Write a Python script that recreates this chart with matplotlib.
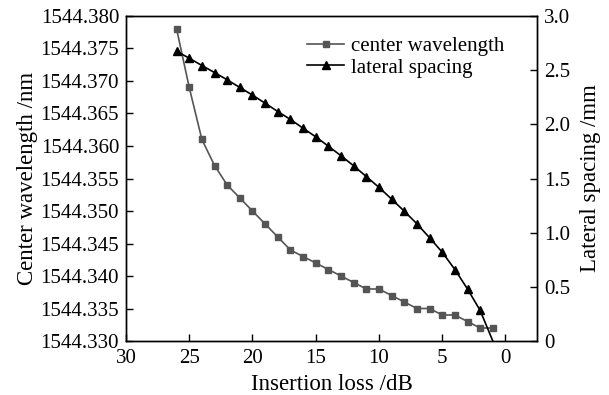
import matplotlib
matplotlib.use("Agg")
import matplotlib.pyplot as plt
from matplotlib.ticker import FixedLocator

plt.rcParams['font.family'] = ['Liberation Serif', 'DejaVu Serif']

insertion_loss = [26, 25, 24, 23, 22, 21, 20, 19, 18, 17, 16, 15, 14, 13,
                  12, 11, 10, 9, 8, 7, 6, 5, 4, 3, 2, 1]
center_wavelength = [1544.378, 1544.369, 1544.361, 1544.357, 1544.354, 1544.352,
                     1544.350, 1544.348, 1544.346, 1544.344, 1544.343, 1544.342,
                     1544.341, 1544.340, 1544.339, 1544.338, 1544.338, 1544.337,
                     1544.336, 1544.335, 1544.335, 1544.334, 1544.334, 1544.333,
                     1544.332, 1544.332]
lateral_spacing = [2.675, 2.61, 2.543, 2.478, 2.411, 2.34, 2.27, 2.195, 2.118,
                   2.045, 1.964, 1.885, 1.798, 1.71, 1.617, 1.518, 1.418, 1.31,
                   1.198, 1.082, 0.953, 0.82, 0.66, 0.48, 0.282, 0.0]

x_ticks = [30, 25, 20, 15, 10, 5, 0]
left_ticks = [1544.330, 1544.335, 1544.340, 1544.345, 1544.350, 1544.355,
              1544.360, 1544.365, 1544.370, 1544.375, 1544.380]
right_ticks = [0, 0.5, 1.0, 1.5, 2.0, 2.5, 3.0]
right_labels = ['0', '0.5', '1.0', '1.5', '2.0', '2.5', '3.0']

fig = plt.figure(figsize=(6.09, 3.95), dpi=100)
ax = fig.add_axes([0.2069, 0.1367, 0.675, 0.8228])
ax2 = ax.twinx()

l1, = ax.plot(insertion_loss, center_wavelength, color='#555555', lw=1.2,
              marker='s', markersize=4, label='center wavelength')
l2, = ax2.plot(insertion_loss, lateral_spacing, color='black', lw=1.2,
               marker='^', markersize=5.5, markevery=list(range(len(insertion_loss) - 1)),
               label='lateral spacing')

ax.set_xlim(30, -2.5)
ax.set_ylim(1544.330, 1544.380)
ax2.set_ylim(0, 3.0)

ax.xaxis.set_major_locator(FixedLocator(x_ticks))
ax.set_xticklabels([str(t) for t in x_ticks])
ax.yaxis.set_major_locator(FixedLocator(left_ticks))
ax.set_yticklabels(['%.3f' % t for t in left_ticks])
ax2.yaxis.set_major_locator(FixedLocator(right_ticks))
ax2.set_yticklabels(right_labels)

fs = 15
for a in (ax, ax2):
    a.tick_params(direction='in', length=5, width=1, labelsize=fs, pad=5)
    for s in a.spines.values():
        s.set_linewidth(1.0)
ax.tick_params(axis='x', top=False, pad=6)
ax.tick_params(axis='y', pad=5)

lfs = 16.5
ax.set_xlabel('Insertion loss /dB', fontsize=lfs, labelpad=4)
ax.set_ylabel('Center wavelength /nm', fontsize=lfs, labelpad=2)
ax2.set_ylabel('Lateral spacing /mm', fontsize=lfs, labelpad=7)

leg = ax.legend(handles=[l1, l2], loc='upper right', bbox_to_anchor=(0.965, 0.995),
                frameon=False, fontsize=15, handlelength=1.8, handletextpad=0.3,
                labelspacing=0.1, markerscale=1.0)

fig.savefig('out.png', dpi=100)
